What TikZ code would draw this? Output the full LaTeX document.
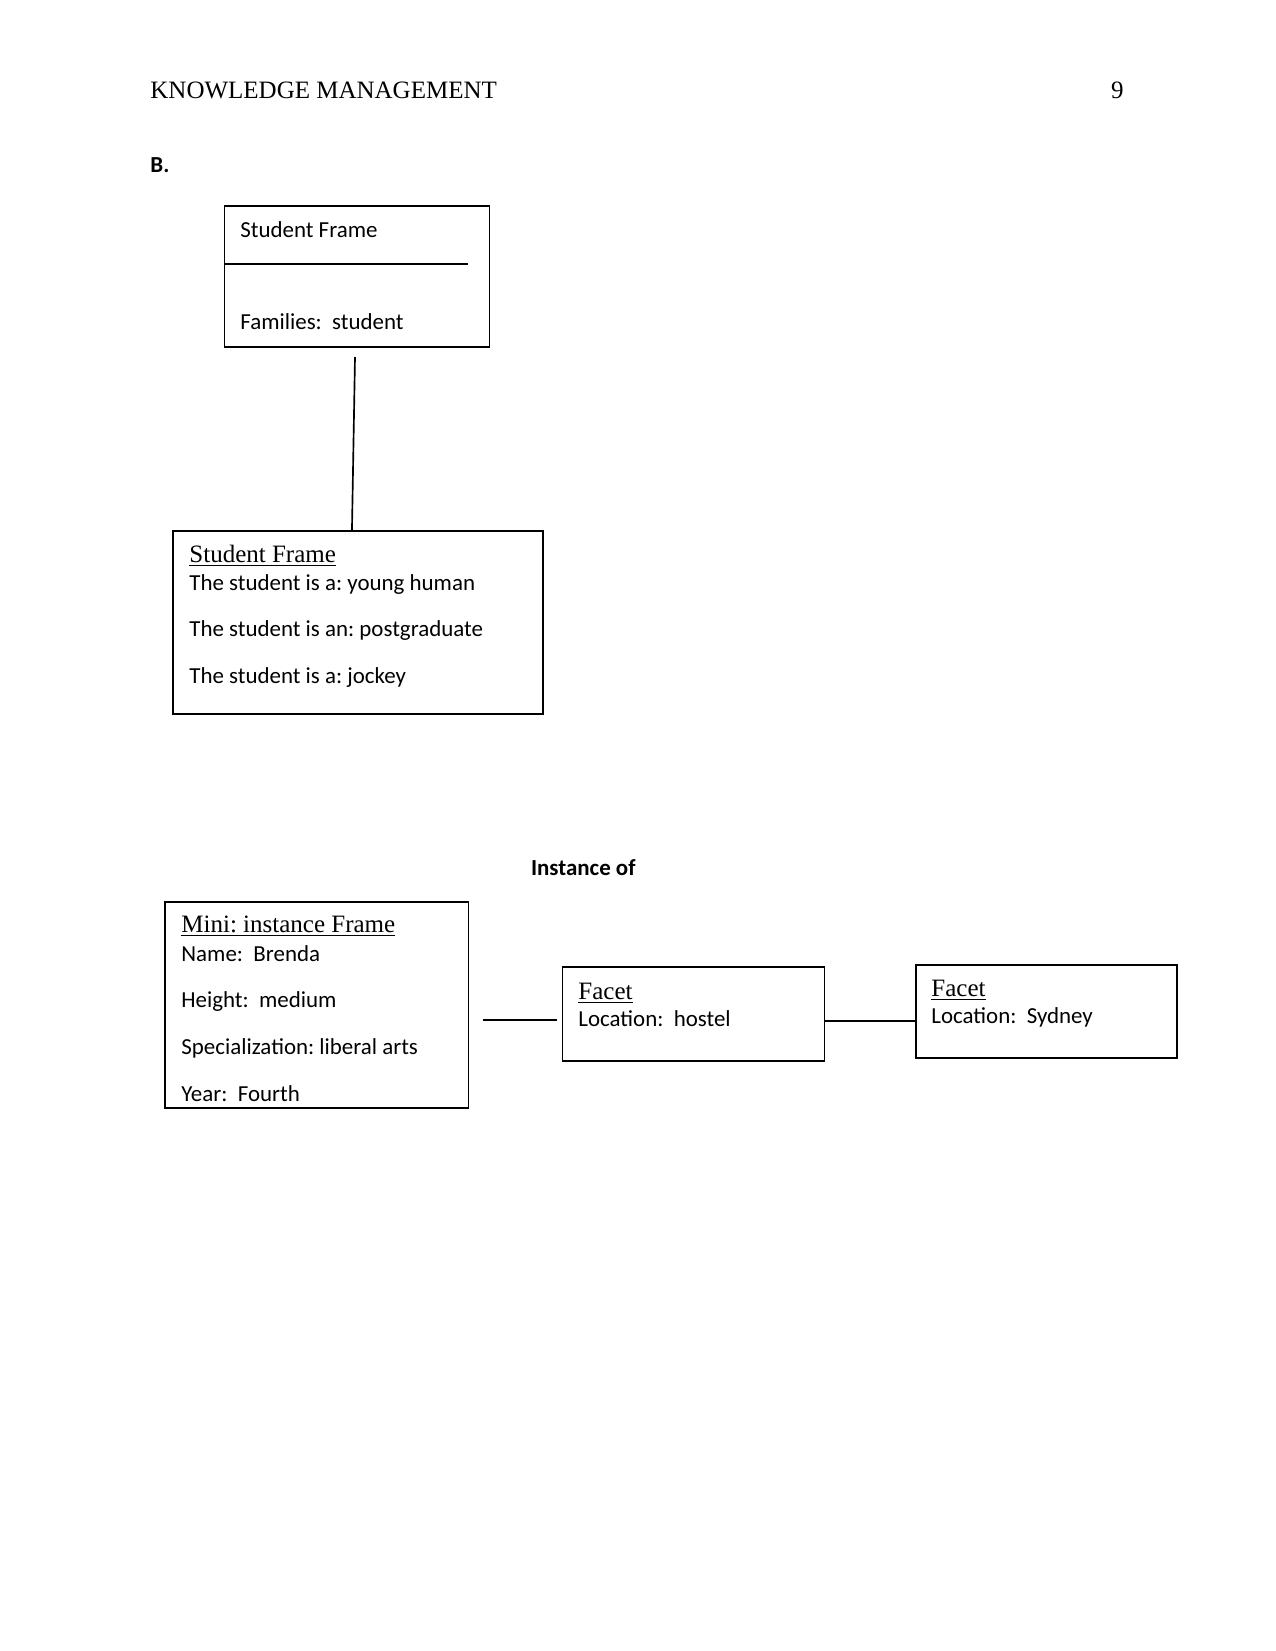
\documentclass[tikz,border=0pt]{standalone}
\usepackage{fontspec}
\setmainfont{Carlito}
\newfontfamily\timesfont{Liberation Serif}
\usetikzlibrary{calc}
\frenchspacing

\tikzset{
  frame/.style={draw,line width=0.9pt,inner sep=0pt},
  ttl/.style={anchor=base west,inner sep=0pt,font=\timesfont\fontsize{12}{14}\selectfont},
  slot/.style={anchor=base west,inner sep=0pt,font=\fontsize{11}{13}\selectfont},
  link/.style={line width=0.8pt}
}

\begin{document}
\begin{tikzpicture}[x=0.48pt,y=-0.48pt]
 \useasboundingbox (0,0) rectangle (1275,1651);
 % page head
 \node[ttl] (head) at (150,99) {KNOWLEDGE MANAGEMENT};
 \node[ttl,anchor=base east] (pageno) at (1124,99) {9};
 \node[slot,font=\bfseries\fontsize{11}{13}\selectfont] (part) at (150,173) {B.};

 % generic frame
 \node[frame,minimum width=127.2pt,minimum height=67.7pt] (sframe) at (357,276.5) {};
 \node[slot] (sframet) at (240,237.5) {Student Frame};
 \draw[line width=0.9pt] (225,264) -- (468,264);
 \node[slot] (sframef) at (240,329.5) {Families:~~student};

 % class frame
 \node[frame,minimum width=177.8pt,minimum height=87.9pt] (sclass) at (358,622.7) {};
 \node[ttl] (sclasst) at (189,562.5) {\underline{Student Frame}};
 \node[slot] (sclassa) at (189,590) {The student is a: young human};
 \node[slot] (sclassb) at (189,636.5) {The student is an: postgraduate};
 \node[slot] (sclassc) at (189,683.5) {The student is a: jockey};

 \coordinate (stail) at (355,357);
 \draw[link] (stail) -- ([xshift=-2.9pt]sclass.north);

 % instance frame
 \node[slot,font=\bfseries\fontsize{11}{13}\selectfont] (instof) at (530.6,875.5) {Instance of};
 \node[frame,minimum width=145.5pt,minimum height=98.6pt] (mini) at (316.9,1005) {};
 \node[ttl] (minit) at (181,932.5) {\underline{Mini: instance Frame}};
 \node[slot] (minia) at (181,961) {Name:~~Brenda};
 \node[slot] (minib) at (181,1007.7) {Height:~~medium};
 \node[slot] (minic) at (181,1054.4) {Specialization: liberal arts};
 \node[slot] (minid) at (181,1101.1) {Year:~~Fourth};

 % facets
 \node[frame,minimum width=125.8pt,minimum height=45pt] (fhostel) at (693.5,1014) {};
 \node[ttl] (fhostelt) at (578,999) {\underline{Facet}};
 \node[slot] (fhostell) at (578,1026) {Location:~~hostel};

 \node[frame,minimum width=125.3pt,minimum height=44.4pt] (fsydney) at (1046.5,1011.5) {};
 \node[ttl] (fsydneyt) at (931,996) {\underline{Facet}};
 \node[slot] (fsydneyl) at (931,1023) {Location:~~Sydney};

 \coordinate (itail) at (483,1020);
 \draw[link,shorten >=2pt] (itail) -- (itail -| fhostel.west);
 \draw[line width=0.6pt] (fhostel.east |- 0,1021) -- (fsydney.west |- 0,1021);
\end{tikzpicture}
\end{document}
